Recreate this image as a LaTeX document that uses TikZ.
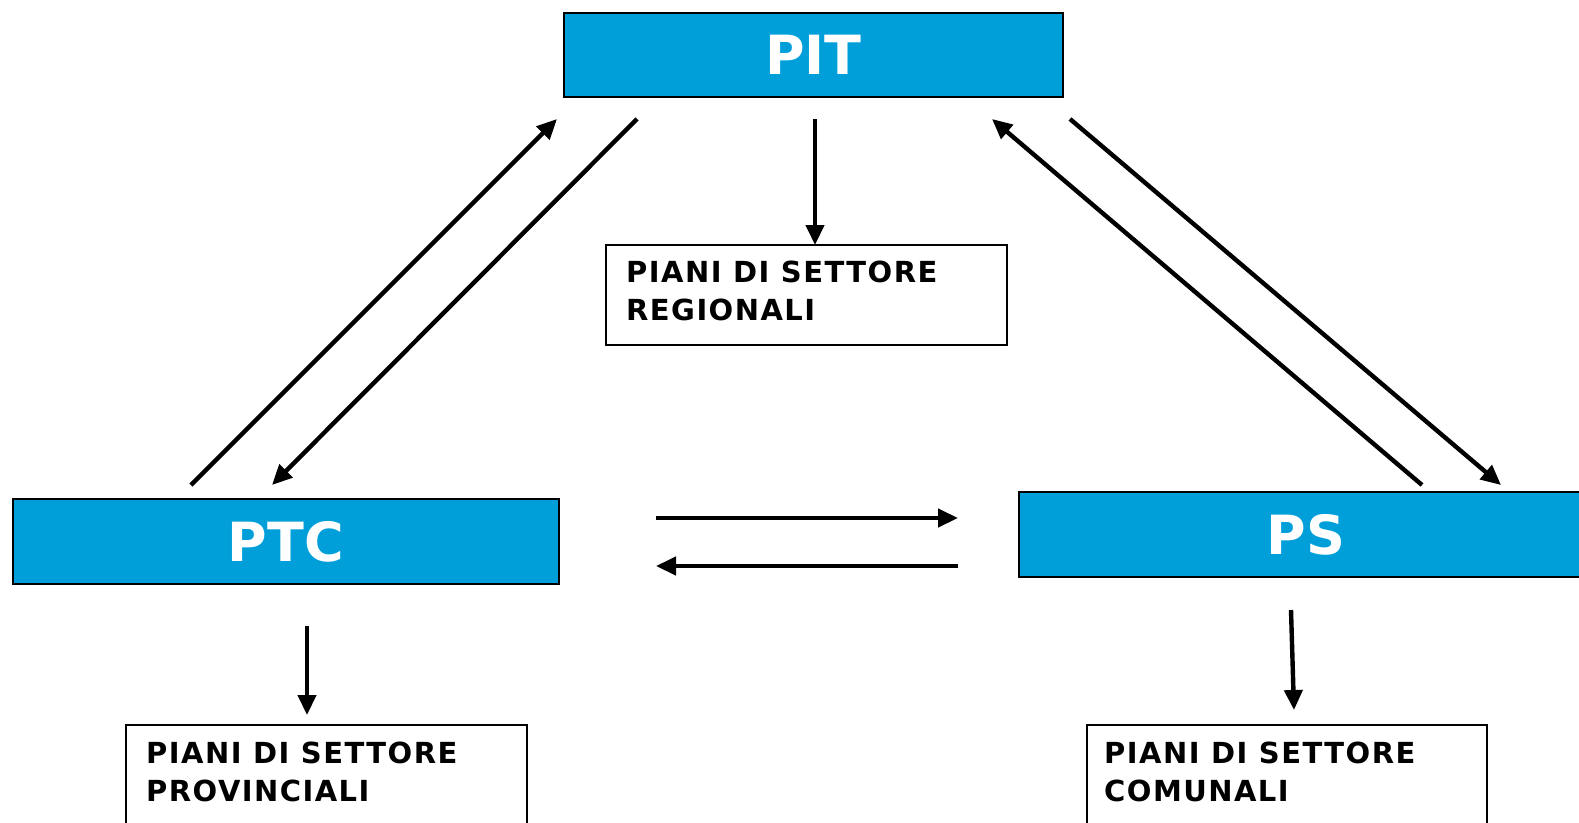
\documentclass[tikz,border=0pt]{standalone}
\usepackage{fontspec}
\setmainfont{DejaVu Sans}
\newfontfamily\lblfont[LetterSpace=5]{DejaVu Sans}
\usetikzlibrary{arrows.meta}
\definecolor{boxblue}{RGB}{0,159,218}
\begin{document}
\begin{tikzpicture}[x=1pt,y=-1pt,
  bluebox/.style={draw=black, line width=2.6pt, fill=boxblue, text=white,
    font=\fontsize{54}{60}\selectfont\bfseries, inner sep=0pt},
  whitebox/.style={draw=black, line width=2pt, fill=white, inner sep=0pt},
  lbl/.style={font=\lblfont\fontsize{29}{37.5}\selectfont\bfseries, align=left,
    inner sep=0pt, anchor=north west},
  arr/.style={line width=4.4pt, -{Triangle[length=20pt,width=18pt]}}]
\clip (0,0) rectangle (1579,822);
\fill[white] (0,0) rectangle (1579,822);

% main boxes
\node[bluebox, minimum width=499pt, minimum height=84pt] (PIT) at (813.5,55) {PIT};
\node[bluebox, minimum width=546pt, minimum height=85pt] (PTC) at (286,541.5) {PTC};
\node[bluebox, minimum width=574pt, minimum height=85pt] (PS) at (1306,534.5) {PS};

% sector plan boxes
\node[whitebox, minimum width=401pt, minimum height=100pt] (reg) at (806.5,295) {};
\node[whitebox, minimum width=401pt, minimum height=110pt] (prov) at (326.5,780) {};
\node[whitebox, minimum width=400pt, minimum height=110pt] (com) at (1287,780) {};

\node[lbl] (regtxt) at (626,261) {PIANI DI SETTORE\\REGIONALI};
\node[lbl] (provtxt) at (146,742) {PIANI DI SETTORE\\PROVINCIALI};
\node[lbl] (comtxt) at (1104,742) {PIANI DI SETTORE\\COMUNALI};

% connector end points
\coordinate (a1s) at (191,485);  \coordinate (a1e) at (557,119);
\coordinate (a2s) at (637,119);  \coordinate (a2e) at (272,485);
\coordinate (a3s) at (815,119);  \coordinate (a3e) at (815,245);
\coordinate (a4s) at (1422,485); \coordinate (a4e) at (992,119);
\coordinate (a5s) at (1070,119); \coordinate (a5e) at (1501,485);
\coordinate (a6s) at (656,518);  \coordinate (a6e) at (958,518);
\coordinate (a7s) at (958,566);  \coordinate (a7e) at (656,566);
\coordinate (a8s) at (307,626);  \coordinate (a8e) at (307,715);
\coordinate (a9s) at (1291,610); \coordinate (a9e) at (1294,710);

\draw[arr] (a1s) -- (a1e);
\draw[arr] (a2s) -- (a2e);
\draw[arr] (a3s) -- (a3e);
\draw[arr] (a4s) -- (a4e);
\draw[arr] (a5s) -- (a5e);
\draw[arr] (a6s) -- (a6e);
\draw[arr] (a7s) -- (a7e);
\draw[arr] (a8s) -- (a8e);
\draw[arr] (a9s) -- (a9e);
\end{tikzpicture}
\end{document}
